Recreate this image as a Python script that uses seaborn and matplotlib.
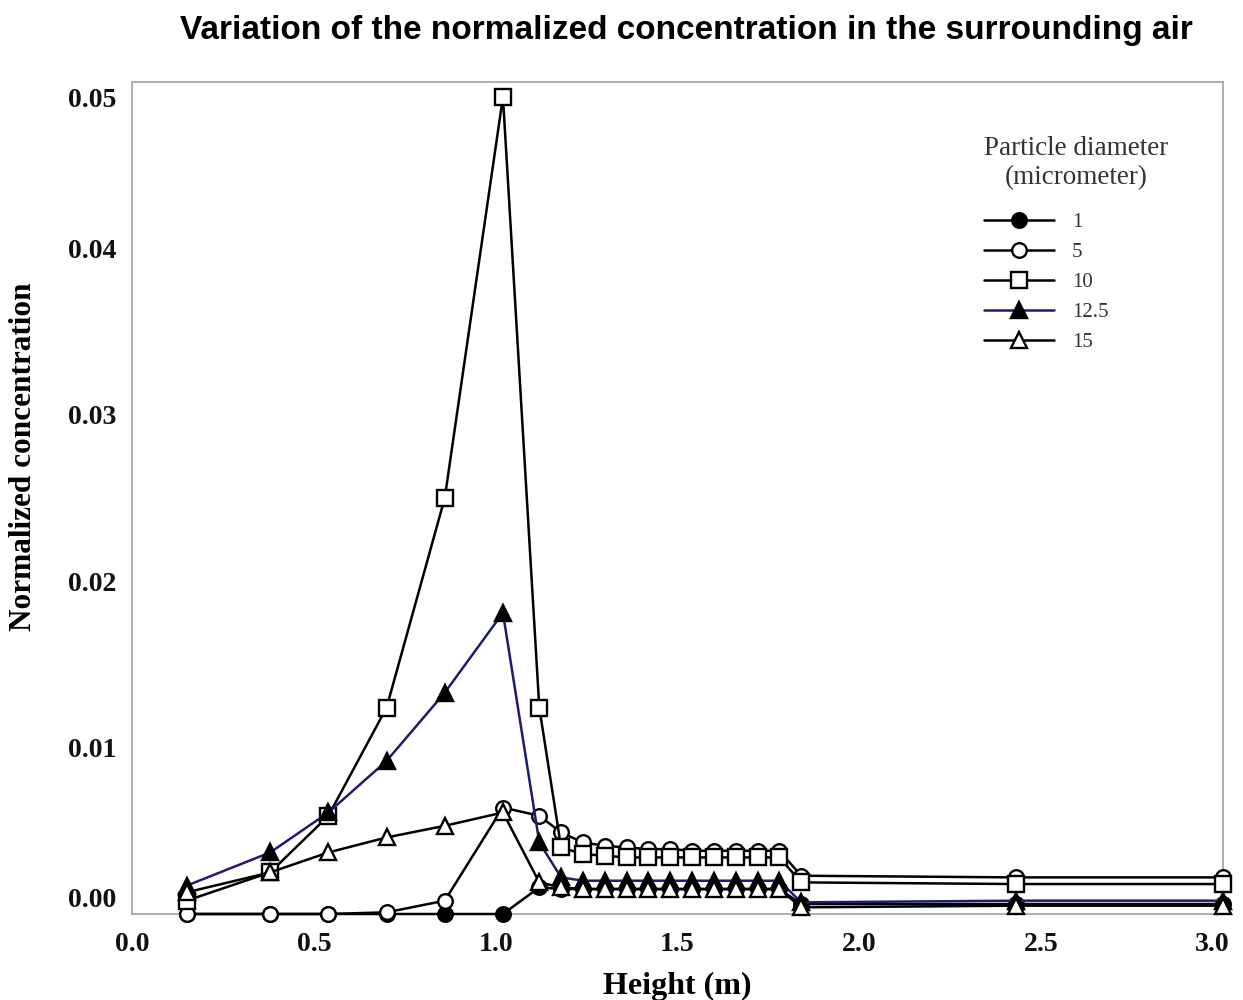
import numpy as np
import pandas as pd
import matplotlib
matplotlib.use("Agg")
import matplotlib.pyplot as plt
import matplotlib.transforms as mtransforms
from matplotlib.ticker import MultipleLocator
import seaborn as sns

# Sampling heights (m)
height = [0.15, 0.38, 0.54, 0.70, 0.86, 1.02, 1.12,
          1.18, 1.24, 1.30, 1.36, 1.42, 1.48, 1.54, 1.60, 1.66, 1.72, 1.78,
          1.84, 2.43, 3.00]

# Normalized concentration for each particle diameter (micrometer)
conc_d1 = [0.0, 0.0, 0.0, 0.0, 0.0, 0.0, 0.0016,
           0.0015, 0.0015, 0.0015, 0.0015, 0.0015, 0.0015, 0.0015, 0.0015, 0.0015, 0.0015, 0.0015,
           0.0006, 0.0006, 0.0006]
conc_d5 = [0.0, 0.0, 0.0, 0.0001, 0.0008, 0.0064, 0.0059,
           0.0049, 0.0043, 0.0041, 0.0040, 0.0039, 0.0039, 0.0038, 0.0038, 0.0038, 0.0038, 0.0038,
           0.0023, 0.0022, 0.0022]
conc_d10 = [0.0008, 0.0025, 0.0059, 0.0124, 0.0250, 0.0491, 0.0124,
            0.0040, 0.0036, 0.0035, 0.0034, 0.0034, 0.0034, 0.0034, 0.0034, 0.0034, 0.0034, 0.0034,
            0.0019, 0.0018, 0.0018]
conc_d12_5 = [0.0017, 0.0037, 0.0061, 0.0092, 0.0133, 0.0181, 0.0043,
              0.0022, 0.0020, 0.0020, 0.0020, 0.0020, 0.0020, 0.0020, 0.0020, 0.0020, 0.0020, 0.0020,
              0.0007, 0.0008, 0.0008]
conc_d15 = [0.0013, 0.0025, 0.0037, 0.0046, 0.0053, 0.0061, 0.0019,
            0.0016, 0.0015, 0.0015, 0.0015, 0.0015, 0.0015, 0.0015, 0.0015, 0.0015, 0.0015, 0.0015,
            0.0004, 0.0005, 0.0005]

diameters = ["1", "5", "10", "12.5", "15"]
series = [conc_d1, conc_d5, conc_d10, conc_d12_5, conc_d15]

x_ticks = [0.0, 0.5, 1.0, 1.5, 2.0, 2.5, 3.0]
x_tick_labels = ["0.0", "0.5", "1.0", "1.5", "2.0", "2.5", "3.0"]
y_ticks = [0.00, 0.01, 0.02, 0.03, 0.04, 0.05]
y_tick_labels = ["0.00", "0.01", "0.02", "0.03", "0.04", "0.05"]

df = pd.concat(
    [pd.DataFrame({"height": height, "conc": vals, "diameter": d})
     for d, vals in zip(diameters, series)],
    ignore_index=True,
)

sns.set_style("white")
plt.rcParams["font.family"] = ["Liberation Serif", "DejaVu Serif"]
plt.rcParams["text.color"] = "black"
plt.rcParams["axes.labelcolor"] = "black"

styles = {
    "1":    dict(marker="o", mfc="black", color="black", ms=10.5),
    "5":    dict(marker="o", mfc="white", color="black", ms=10.5),
    "10":   dict(marker="s", mfc="white", color="black", ms=11),
    "12.5": dict(marker="^", mfc="black", color="#1c1c70", ms=11),
    "15":   dict(marker="^", mfc="white", color="black", ms=11),
}

fig = plt.figure(figsize=(12.43, 10), dpi=100)
ax = fig.add_axes([0.1062, 0.086, 0.8777, 0.832])

for d in diameters:
    st = styles[d]
    sns.lineplot(
        data=df[df["diameter"] == d], x="height", y="conc", ax=ax,
        color=st["color"], marker=st["marker"], markersize=st["ms"],
        markerfacecolor=st["mfc"], markeredgecolor="black", markeredgewidth=1.7,
        linewidth=1.8, estimator=None, sort=False, label=d, clip_on=False,
        zorder=3,
    )

ax.set_xlim(0, 3.0)
ax.set_ylim(0, 0.05)
ax.set_xticks(x_ticks)
ax.set_xticklabels(x_tick_labels)
ax.set_yticks(y_ticks)
ax.set_yticklabels(y_tick_labels)
ax.xaxis.set_minor_locator(MultipleLocator(0.25))
ax.yaxis.set_minor_locator(MultipleLocator(0.0025))

frame_col = "#a8a8a8"
for sp in ax.spines.values():
    sp.set_visible(True)
    sp.set_color(frame_col)
    sp.set_linewidth(1.3)

ax.tick_params(which="both", direction="in", color=frame_col, width=1.3,
               labelcolor="#111111")
ax.tick_params(which="major", length=14)
ax.tick_params(which="minor", length=7)
ax.tick_params(axis="x", which="major", pad=13)
ax.tick_params(axis="y", which="major", pad=11)
for lab in ax.get_xticklabels() + ax.get_yticklabels():
    lab.set_fontweight("bold")
    lab.set_fontsize(20)

# keep the end labels inside the frame
ylabs = ax.get_yticklabels()
ylabs[0].set_transform(ylabs[0].get_transform() +
                       mtransforms.ScaledTranslation(0, 12 / 72, fig.dpi_scale_trans))
ylabs[-1].set_transform(ylabs[-1].get_transform() +
                        mtransforms.ScaledTranslation(0, -11 / 72, fig.dpi_scale_trans))
xlabs = ax.get_xticklabels()
xlabs[-1].set_transform(xlabs[-1].get_transform() +
                        mtransforms.ScaledTranslation(-8 / 72, 0, fig.dpi_scale_trans))

ax.set_xlabel("Height (m)", fontsize=23, fontweight="bold")
ax.set_ylabel("Normalized concentration", fontsize=22.5, fontweight="bold")
ax.xaxis.set_label_coords(0.5, -0.07)
ax.yaxis.set_label_coords(-0.086, 0.55)

fig.text(0.552, 0.969, "Variation of the normalized concentration in the surrounding air",
         ha="center", va="center", fontsize=24, fontweight="bold", color="black",
         family=["Liberation Sans", "DejaVu Sans"])

leg = ax.legend(title="Particle diameter\n(micrometer)", loc="upper left",
                bbox_to_anchor=(0.771, 0.948), frameon=False, fontsize=15,
                title_fontsize=19.5, handlelength=3.4, labelspacing=0.5,
                handletextpad=0.85, borderpad=0, alignment="left")
title = leg.get_title()
title.set_color("#333333")
title.set_multialignment("center")
title.set_linespacing(1.25)
leg._legend_box.sep = 16
for t in leg.get_texts():
    t.set_color("#333333")

fig.savefig("out.png", dpi=100, facecolor="white")
